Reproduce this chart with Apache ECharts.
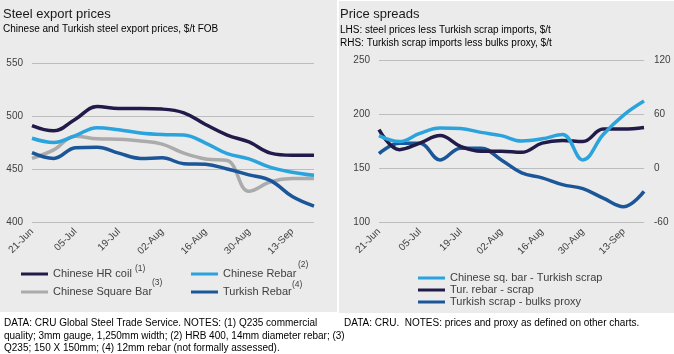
<!DOCTYPE html>
<html>
<head>
<meta charset="utf-8">
<script src="https://cdn.jsdelivr.net/npm/echarts@6/dist/echarts.min.js"></script>
<style>
    html, body { margin: 0; padding: 0; background: #fff; }
    .panel { position: absolute; background: #ebebeb; }
    #chart { position: absolute; left: 0; top: 0; width: 674px; height: 354px; }
</style>
</head>
<body>
<div class="panel" style="left:0;top:0;width:337px;height:312px"></div>
<div class="panel" style="left:339px;top:1px;width:335px;height:312px"></div>
<div id="chart"></div>
<script>
// weekly observations
const weeks = ['21-Jun', '28-Jun', '05-Jul', '12-Jul', '19-Jul', '26-Jul', '02-Aug',
    '09-Aug', '16-Aug', '23-Aug', '30-Aug', '06-Sep', '13-Sep', '20-Sep'];

// left chart, $/t FOB
const hrCoil = [491, 486, 497, 509, 507, 507, 506.5, 503, 492, 482, 475.5, 465, 463, 463];
const chineseRebar = [479, 475, 481.5, 489, 487, 484, 482.5, 482, 474.5, 464.5, 459.5, 451.5, 447, 444];
const squareBar = [460, 468, 481, 478.5, 478, 476.5, 473.5, 465, 459.5, 458, 429, 438, 441, 441];
const turkishRebar = [465.5, 460, 470, 470.5, 465, 460, 460.5, 455, 454.5, 450, 444.5, 439, 424, 415];

// right chart, $/t
const sqBarLessScrap = [180, 174.5, 182, 187, 186.5, 183, 180, 175, 177, 181, 157.5, 181, 199, 212];
const turRebarLessScrap = [185.5, 167, 173, 180, 170, 165.5, 165.5, 164.5, 173, 175.5, 174.5, 186, 186, 187.5];
const scrapLessBulks = [16, 27.5, 27.5, 9, 22, 22, 9, -5.5, -11, -18.5, -23, -33.5, -43, -26];

const FONT = 'Arial, "Liberation Sans", sans-serif';
const NAVY = '#201b48';
const LIGHT = '#2ba3dc';
const GREY = '#ababab';
const MID = '#1b5698';

const myChart = echarts.init(document.getElementById('chart'), null, { renderer: 'canvas' });

const lineDefaults = {
    type: 'line',
    smooth: 0.4,
    symbol: 'none',
    animation: false,
    lineStyle: { width: 3.5 },
    emphasis: { disabled: true }
};

const xAxisDefaults = {
    type: 'category',
    data: weeks,
    boundaryGap: false,
    axisLine: { show: false },
    axisTick: { show: false },
    axisLabel: {
        interval: 1,
        rotate: 45,
        fontSize: 10,
        fontFamily: FONT,
        color: '#404040',
        margin: 8
    }
};

const yAxisDefaults = {
    type: 'value',
    axisLine: { show: false },
    axisTick: { show: false },
    splitLine: { lineStyle: { color: '#bdbdbd', width: 1 } },
    axisLabel: { fontSize: 10, fontFamily: FONT, color: '#404040', margin: 9 }
};

const legendDefaults = {
    orient: 'vertical',
    icon: 'rect',
    itemWidth: 27,
    itemHeight: 3,
    selectedMode: false,
    textStyle: { fontSize: 11, fontFamily: FONT, color: '#404040', lineHeight: 12 }
};

const supStyle = { fontSize: 8.5, fontFamily: FONT, fill: '#404040' };

const option = {
    title: [
        {
            text: 'Steel export prices',
            subtext: 'Chinese and Turkish steel export prices, $/t FOB',
            left: -2, top: 3, itemGap: 3,
            textStyle: { fontSize: 13, fontWeight: 'normal', fontFamily: FONT, color: '#1a1a1a' },
            subtextStyle: { fontSize: 10, fontFamily: FONT, color: '#000' }
        },
        {
            text: 'Price spreads',
            subtext: 'LHS: steel prices less Turkish scrap imports, $/t\nRHS: Turkish scrap imports less bulks proxy, $/t',
            left: 335, top: 3, itemGap: 3,
            textStyle: { fontSize: 13, fontWeight: 'normal', fontFamily: FONT, color: '#1a1a1a' },
            subtextStyle: { fontSize: 10, fontFamily: FONT, color: '#000', lineHeight: 13 }
        }
    ],
    grid: [
        { left: 32, top: 63, width: 282, height: 159 },
        { left: 379, top: 60, width: 265, height: 162 }
    ],
    xAxis: [
        { ...xAxisDefaults, gridIndex: 0 },
        { ...xAxisDefaults, gridIndex: 1 }
    ],
    yAxis: [
        { ...yAxisDefaults, gridIndex: 0, min: 400, max: 550, interval: 50 },
        { ...yAxisDefaults, gridIndex: 1, min: 100, max: 250, interval: 50 },
        { ...yAxisDefaults, gridIndex: 1, position: 'right', min: -60, max: 120, interval: 60,
          splitLine: { show: false }, axisLabel: { ...yAxisDefaults.axisLabel, margin: 10 } }
    ],
    legend: [
        { ...legendDefaults, left: 16, top: 263, itemGap: 6, data: ['Chinese HR coil', 'Chinese Square Bar'] },
        { ...legendDefaults, left: 186, top: 263, itemGap: 6, data: ['Chinese Rebar', 'Turkish Rebar'] },
        { ...legendDefaults, left: 413, top: 267, itemGap: 0,
          data: ['Chinese sq. bar - Turkish scrap', 'Tur. rebar - scrap', 'Turkish scrap - bulks proxy'] }
    ],
    graphic: [
        { type: 'text', x: 135, y: 264, style: { ...supStyle, text: '(1)' } },
        { type: 'text', x: 298, y: 260, style: { ...supStyle, text: '(2)' } },
        { type: 'text', x: 152, y: 278, style: { ...supStyle, text: '(3)' } },
        { type: 'text', x: 292, y: 280, style: { ...supStyle, text: '(4)' } },
        {
            type: 'text', x: 4, y: 317,
            style: {
                text: 'DATA: CRU Global Steel Trade Service. NOTES: (1) Q235 commercial\n' +
                    'quality; 3mm gauge, 1,250mm width; (2) HRB 400, 14mm diameter rebar; (3)\n' +
                    'Q235; 150 X 150mm; (4) 12mm rebar (not formally assessed).',
                fontSize: 10, fontFamily: FONT, fill: '#000', lineHeight: 12.5
            }
        },
        {
            type: 'text', x: 344, y: 317,
            style: {
                text: 'DATA: CRU.  NOTES: prices and proxy as defined on other charts.',
                fontSize: 10, fontFamily: FONT, fill: '#000', lineHeight: 12.5
            }
        }
    ],
    series: [
        { ...lineDefaults, name: 'Chinese Square Bar', xAxisIndex: 0, yAxisIndex: 0, data: squareBar, color: GREY },
        { ...lineDefaults, name: 'Turkish Rebar', xAxisIndex: 0, yAxisIndex: 0, data: turkishRebar, color: MID },
        { ...lineDefaults, name: 'Chinese Rebar', xAxisIndex: 0, yAxisIndex: 0, data: chineseRebar, color: LIGHT },
        { ...lineDefaults, name: 'Chinese HR coil', xAxisIndex: 0, yAxisIndex: 0, data: hrCoil, color: NAVY },

        { ...lineDefaults, name: 'Turkish scrap - bulks proxy', xAxisIndex: 1, yAxisIndex: 2, data: scrapLessBulks, color: MID },
        { ...lineDefaults, name: 'Tur. rebar - scrap', xAxisIndex: 1, yAxisIndex: 1, data: turRebarLessScrap, color: NAVY },
        { ...lineDefaults, name: 'Chinese sq. bar - Turkish scrap', xAxisIndex: 1, yAxisIndex: 1, data: sqBarLessScrap, color: LIGHT }
    ]
};

myChart.setOption(option);
</script>
</body>
</html>
